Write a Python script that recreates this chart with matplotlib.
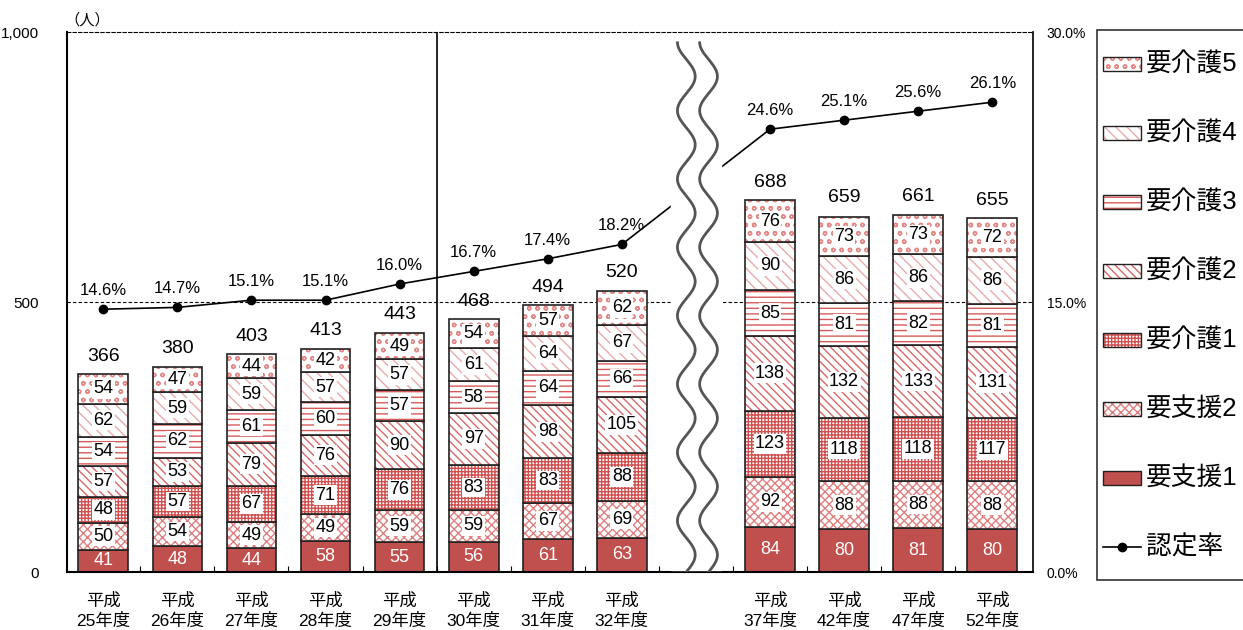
import numpy as np
import matplotlib.pyplot as plt
from matplotlib.patches import Rectangle
from matplotlib.lines import Line2D

plt.rcParams['font.family'] = ['Liberation Sans', 'Noto Sans CJK JP']
plt.rcParams['hatch.linewidth'] = 1.0

# data
years = ["平成\n25年度", "平成\n26年度", "平成\n27年度", "平成\n28年度",
         "平成\n29年度", "平成\n30年度", "平成\n31年度", "平成\n32年度",
         "平成\n37年度", "平成\n42年度", "平成\n47年度", "平成\n52年度"]
pos = [0, 1, 2, 3, 4, 5, 6, 7, 9, 10, 11, 12]

shien1 = [41, 48, 44, 58, 55, 56, 61, 63, 84, 80, 81, 80]
shien2 = [50, 54, 49, 49, 59, 59, 67, 69, 92, 88, 88, 88]
kaigo1 = [48, 57, 67, 71, 76, 83, 83, 88, 123, 118, 118, 117]
kaigo2 = [57, 53, 79, 76, 90, 97, 98, 105, 138, 132, 133, 131]
kaigo3 = [54, 62, 61, 60, 57, 58, 64, 66, 85, 81, 82, 81]
kaigo4 = [62, 59, 59, 57, 57, 61, 64, 67, 90, 86, 86, 86]
kaigo5 = [54, 47, 44, 42, 49, 54, 57, 62, 76, 73, 73, 72]
totals = [366, 380, 403, 413, 443, 468, 494, 520, 688, 659, 661, 655]
rate = [14.6, 14.7, 15.1, 15.1, 16.0, 16.7, 17.4, 18.2, 24.6, 25.1, 25.6, 26.1]

solid = '#C0504D'

# name, values, hatch, hatch colour
series = [
    ("要支援1", shien1, None, None),
    ("要支援2", shien2, 'xxxx', '#DE8080'),
    ("要介護1", kaigo1, '+++++', '#D05050'),
    ("要介護2", kaigo2, '\\\\\\\\', '#D86868'),
    ("要介護3", kaigo3, '---', '#D65A5A'),
    ("要介護4", kaigo4, '\\\\\\', '#EBAAAA'),
    ("要介護5", kaigo5, 'oo', '#E48888'),
]

fig = plt.figure(figsize=(12.43, 6.30), dpi=100)
ax = fig.add_axes([67 / 1243, 58 / 630, 966 / 1243, 540 / 630])

width = 0.67
bottom = np.zeros(len(pos))
for name, vals, hatch, hcol in series:
    vals = np.array(vals)
    if hatch is None:
        ax.bar(pos, vals, width, bottom=bottom, color=solid,
               edgecolor='#222222', linewidth=1.2, zorder=2)
    else:
        ax.bar(pos, vals, width, bottom=bottom, color='white',
               edgecolor=hcol, hatch=hatch, linewidth=0, zorder=2)
        ax.bar(pos, vals, width, bottom=bottom, color='none',
               edgecolor='#222222', linewidth=1.2, zorder=2)
    for x, b, v in zip(pos, bottom, vals):
        if hatch is None:
            ax.text(x, b + v / 2, str(v), ha='center', va='center',
                    fontsize=13, color='white', zorder=3)
        else:
            ax.text(x, b + v / 2, str(v), ha='center', va='center',
                    fontsize=13, color='black', zorder=3,
                    bbox=dict(facecolor='white', edgecolor='none', pad=1))
    bottom += vals

for x, t in zip(pos, totals):
    ax.annotate(str(t), (x, t), xytext=(0, 7), textcoords='offset points',
                ha='center', va='bottom', fontsize=14)

ax.axhline(500, color='black', linestyle=(0, (3, 2)), linewidth=0.8, zorder=1)
ax.axvline(4.5, color='black', linewidth=1.2, zorder=1)

ax.set_xlim(-0.49, 12.55)
ax.set_ylim(0, 1000)
ax.set_xticks([k + 0.5 for k in range(12)])
ax.set_xticklabels([])
ax.tick_params(axis='x', which='major', direction='in', length=4)
ax.set_xticks(pos, minor=True)
ax.set_xticklabels(years, minor=True, fontsize=12.5, linespacing=1.25)
ax.tick_params(axis='x', which='minor', length=0, pad=15)
ax.set_yticks([0, 500, 1000])
ax.set_yticklabels(['0', '500', '1,000'], fontsize=11)
ax.tick_params(axis='y', length=0, pad=20)

ax.spines['top'].set_linestyle((0, (3, 2)))
ax.spines['top'].set_linewidth(0.8)
ax.spines['right'].set_visible(False)
ax.spines['left'].set_linewidth(1.5)
ax.spines['bottom'].set_linewidth(1.5)

# rate on the right axis
ax2 = ax.twinx()
ax2.set_ylim(0, 30)
ax2.plot(pos, rate, color='black', linewidth=1.2, marker='o', markersize=6, zorder=3)
for x, r in zip(pos, rate):
    ax2.annotate(f"{r:.1f}%", (x, r), xytext=(0, 8), textcoords='offset points',
                 ha='center', va='bottom', fontsize=12)
ax2.set_yticks([0, 15, 30])
ax2.set_yticklabels(['0.0%', '15.0%', '30.0%'], fontsize=10)
ax2.tick_params(axis='y', length=0, pad=10)
for s in ['top', 'left', 'bottom']:
    ax2.spines[s].set_visible(False)
ax2.spines['right'].set_linewidth(1.2)

# wavy break between 32 and 37
trans = ax2.get_xaxis_transform()
ax2.fill([7.66, 8.34, 8.34, 7.66], [0.004, 0.004, 0.996, 0.996],
         color='white', transform=trans, zorder=4)
yy = np.linspace(0.0, 0.98, 500)
wave = 0.12 * np.sin(2 * np.pi * yy * 7.9)
ax2.plot(7.87 + wave, yy, color='#555555', linewidth=2, transform=trans, zorder=5)
ax2.plot(8.17 + wave, yy, color='#555555', linewidth=2, transform=trans, zorder=5)

fig.text(64 / 1243, 1 - 20 / 630, "（人）", fontsize=11, va='center')

# legend drawn by hand
fig.add_artist(Rectangle((1097 / 1243, 1 - 580 / 630), 200 / 1243, 550 / 630,
                         transform=fig.transFigure, facecolor='white',
                         edgecolor='#333333', linewidth=1.2))
legend_items = [series[6], series[5], series[4], series[3],
                series[2], series[1], series[0]]
for i, (name, vals, hatch, hcol) in enumerate(legend_items):
    yc = 64 + 69 * i
    x0, y0 = 1103 / 1243, 1 - (yc + 7) / 630
    w, h = 38 / 1243, 14 / 630
    if hatch is None:
        fig.add_artist(Rectangle((x0, y0), w, h, transform=fig.transFigure,
                                 facecolor=solid, edgecolor='#222222', linewidth=1))
    else:
        fig.add_artist(Rectangle((x0, y0), w, h, transform=fig.transFigure,
                                 facecolor='white', edgecolor=hcol, hatch=hatch, linewidth=0))
        fig.add_artist(Rectangle((x0, y0), w, h, transform=fig.transFigure,
                                 facecolor='none', edgecolor='#222222', linewidth=1))
    fig.text(1146 / 1243, 1 - yc / 630, name, fontsize=18.5, va='center')

yc = 64 + 69 * 7
fig.add_artist(Line2D([1103 / 1243, 1141 / 1243], [1 - yc / 630, 1 - yc / 630],
                      transform=fig.transFigure, color='black', linewidth=1.2))
fig.add_artist(Line2D([1122 / 1243], [1 - yc / 630], transform=fig.transFigure,
                      color='black', marker='o', markersize=6))
fig.text(1146 / 1243, 1 - yc / 630, "認定率", fontsize=18.5, va='center')

fig.savefig('out.png', dpi=100)
